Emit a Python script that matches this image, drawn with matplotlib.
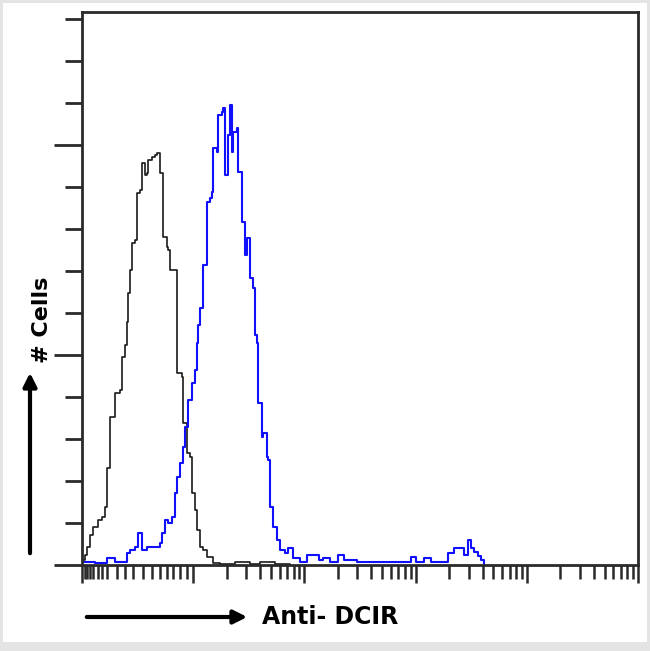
import matplotlib.pyplot as plt
from matplotlib.patches import Rectangle
from matplotlib.ticker import FixedLocator, NullFormatter

# Histogramm-Daten (Kanal, Zellzahl)
control_channel = [1.0, 1.06, 1.11, 1.18, 1.26, 1.39, 1.51, 1.61, 1.68, 1.79, 1.98, 2.20, 2.29, 2.44,
                   2.54, 2.60, 2.70, 2.82, 3.0, 3.13, 3.33, 3.48, 3.70, 3.85, 3.93, 4.28, 4.55, 4.74,
                   5.05, 5.37, 5.83, 5.96, 6.21, 7.18, 7.96, 8.13, 8.83, 9.40, 9.79, 10.4, 10.9, 11.6,
                   12.3, 13.4, 15.1, 17.5, 23.9, 32.7, 40.2, 54.8, 74.8]
control_counts = [1.2, 2.4, 4.3, 7.1, 9.0, 10.7, 11.4, 13.8, 23.1, 35.2, 41.0, 41.7, 49.5, 52.4,
                  57.9, 64.8, 70.2, 76.7, 77.4, 88.6, 89.3, 95.7, 92.9, 93.3, 96.4, 97.1, 97.6, 98.1,
                  93.3, 78.1, 75.7, 75.0, 70.2, 45.7, 44.8, 33.8, 26.7, 25.7, 17.1, 13.1, 8.3, 4.3,
                  3.6, 1.9, 0.5, 0.3, 0.8, 0.2, 0.6, 0.3, 0.0]

dcir_channel = [1.0, 1.31, 1.68, 1.98, 2.54, 2.70, 3.0, 3.2, 3.48, 3.85, 5.05, 5.26, 5.60, 5.96,
                6.47, 6.89, 7.18, 7.64, 8.13, 8.47, 9.02, 9.79, 10.4, 10.9, 11.1, 11.6, 12.3, 13.4,
                14.2, 14.8, 15.1, 16.4, 16.8, 18.2, 18.6, 19.4, 20.7, 21.5, 22.5, 22.9, 24.9, 25.4,
                27.6, 29.4, 30.6, 32.7, 34.8, 36.2, 37.7, 38.5, 41.9, 42.7, 46.4, 47.4, 49.4, 52.6,
                57.1, 60.8, 67.5, 71.8, 79.6, 92, 106, 134, 148, 171, 202, 225, 300, 689, 901,
                1000, 1180, 1365, 1941, 2198, 2706, 2938, 3128, 3334, 3620, 3855, 4102]
dcir_counts = [0.7, 0.5, 1.7, 0.7, 2.9, 3.6, 4.3, 7.6, 3.6, 4.3, 5.2, 7.6, 10.7, 10.0,
               11.4, 17.1, 21.0, 24.3, 28.1, 32.9, 39.3, 43.3, 46.4, 52.9, 57.1, 61.2, 71.4, 86.4,
               87.4, 88.8, 99.3, 98.3, 107.1, 107.9, 108.8, 92.9, 102.4, 109.5, 98.3, 103.1, 104.0, 93.6,
               81.7, 73.8, 77.9, 68.3, 66.0, 54.8, 52.9, 38.6, 30.5, 31.4, 25.7, 25.0, 13.8, 9.0,
               6.0, 3.6, 2.9, 4.0, 1.7, 0.7, 2.4, 1.2, 1.7, 0.7, 2.4, 1.2, 0.7, 0.7, 1.9,
               0.7, 1.7, 0.7, 2.9, 4.0, 2.4, 6.0, 4.0, 3.1, 2.1, 1.2, 0.0]

# Achsen-Ticks
y_major = [0, 50, 100]
y_minor = [10, 20, 30, 40, 60, 70, 80, 90, 110, 120, 130]
x_major = [1, 10, 100, 1000, 10000, 100000]
x_first_decade = [1.06, 1.12, 1.18, 1.26, 1.4, 1.5, 1.67, 2.05, 2.44, 2.86, 3.56, 4.25, 5.05, 5.79, 6.65, 7.64, 8.77]

W, H = 650, 651
fig = plt.figure(figsize=(6.5, 6.51), dpi=100)
fig.patch.set_facecolor('#e4e4e4')
fig.patches.append(Rectangle((3 / W, 9 / H), 644 / W, 639 / H, transform=fig.transFigure,
                             facecolor='white', edgecolor='none', zorder=-1))

ax = fig.add_axes([82 / W, 1 - 565 / H, 556 / W, 553 / H])
ax.set_facecolor('none')

ax.plot(control_channel, control_counts, drawstyle='steps-post', color='#1a1a1a', lw=1.2)
ax.plot(dcir_channel, dcir_counts, drawstyle='steps-post', color='#1010ff', lw=1.5)

ax.set_xscale('log')
ax.set_xlim(1, 100000)
ax.set_ylim(0, 131.7)

# Ticks
minor_x = list(x_first_decade)
for dec in [10, 100, 1000, 10000]:
    minor_x += [dec * k for k in range(2, 10)]
ax.xaxis.set_major_locator(FixedLocator(x_major))
ax.xaxis.set_minor_locator(FixedLocator(minor_x))
ax.yaxis.set_major_locator(FixedLocator(y_major))
ax.yaxis.set_minor_locator(FixedLocator(y_minor))
ax.xaxis.set_major_formatter(NullFormatter())
ax.xaxis.set_minor_formatter(NullFormatter())
ax.yaxis.set_major_formatter(NullFormatter())
ax.yaxis.set_minor_formatter(NullFormatter())
ax.tick_params(axis='x', which='major', direction='out', length=13, width=1.8, color='#2a2a2a')
ax.tick_params(axis='x', which='minor', direction='out', length=10, width=1.8, color='#2a2a2a')
ax.tick_params(axis='y', which='major', direction='out', length=20, width=2.0, color='#2a2a2a')
ax.tick_params(axis='y', which='minor', direction='out', length=12, width=2.0, color='#2a2a2a')

for s in ax.spines.values():
    s.set_color('#2a2a2a')
    s.set_linewidth(2.0)

# Pfeile und Beschriftungen (Figure-Pixel)
ax.annotate('', xy=(250, H - 617), xytext=(84, H - 617), xycoords='figure pixels',
            textcoords='figure pixels',
            arrowprops=dict(arrowstyle='-|>', lw=3, color='black', mutation_scale=20))
fig.text(262 / W, 1 - 617 / H, 'Anti- DCIR', fontsize=17, fontweight='bold',
         ha='left', va='center')

ax.annotate('', xy=(30, H - 370), xytext=(30, H - 556), xycoords='figure pixels',
            textcoords='figure pixels',
            arrowprops=dict(arrowstyle='-|>', lw=3, color='black', mutation_scale=20))
fig.text(42 / W, 1 - 320 / H, '# Cells', fontsize=16, fontweight='bold',
         ha='center', va='center', rotation=90)

plt.savefig('out.png', dpi=100)
